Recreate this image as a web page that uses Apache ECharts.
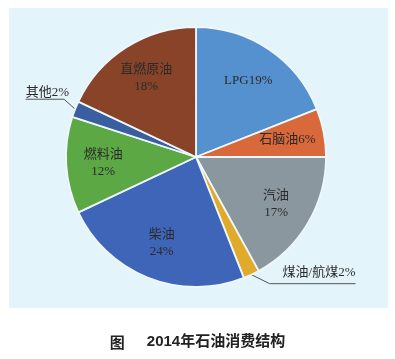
<!DOCTYPE html>
<html>
<head>
<meta charset="utf-8">
<script src="https://cdn.jsdelivr.net/npm/echarts@6/dist/echarts.min.js"></script>
<style>
html,body{margin:0;padding:0;background:#ffffff;}
#chart{width:395px;height:359px;}
</style>
</head>
<body>
<div id="chart"></div>
<script>
// Data
const categories = ['LPG', '石脑油', '汽油', '煤油/航煤', '柴油', '燃料油', '其他', '直燃原油'];
const values = [19, 6, 17, 2, 24, 12, 2, 18];
const captionPrefix = '图';
const captionText = '2014年石油消费结构';

// Styles
const sliceColors = ['#5590cf', '#d9683a', '#8b979f', '#e0aa2a', '#3f65b9', '#5ca845', '#3a5f9e', '#884329'];
const singleLine = ['LPG', '石脑油'];
const outsideNames = ['其他', '煤油/航煤'];
const outsideLine = { '其他': { length: 12, length2: 1 }, '煤油/航煤': { length: 10, length2: 22 } };
const FONT = '"Liberation Serif", "Noto Sans CJK SC", serif';
const CX = 196, CY = 157, R = 130;

const chart = echarts.init(document.getElementById('chart'), null, { renderer: 'canvas' });

const mainData = categories.map((name, i) => {
  const item = { name: name, value: values[i], itemStyle: { color: sliceColors[i] } };
  if (outsideNames.indexOf(name) >= 0) {
    item.label = { show: true };
    item.labelLine = { show: true, length: outsideLine[name].length, length2: outsideLine[name].length2 };
  } else {
    item.label = { show: false };
    item.labelLine = { show: false };
  }
  return item;
});

const labelData = categories.map((name, i) => ({
  name: name,
  value: values[i],
  label: { show: outsideNames.indexOf(name) < 0 }
}));

const option = {
  animation: false,
  graphic: [{
    type: 'rect', z: -10,
    shape: { x: 9, y: 8, width: 379, height: 300 },
    style: { fill: '#e4f4fb' }
  }],
  title: {
    text: '{a|' + captionPrefix + '}{sp|}{b|' + captionText + '}',
    left: 'center',
    top: 328,
    textStyle: {
      rich: {
        a: { fontSize: 15, fontFamily: '"Noto Sans CJK SC"', color: '#222' },
        sp: { width: 22 },
        b: { fontSize: 15, fontWeight: 'bold', fontFamily: '"Liberation Sans", "Noto Sans CJK SC"', color: '#222' }
      }
    }
  },
  series: [
    {
      type: 'pie',
      center: [CX, CY],
      radius: [0, R],
      startAngle: 90,
      clockwise: true,
      avoidLabelOverlap: false,
      itemStyle: { borderColor: '#eef7fb', borderWidth: 1.8 },
      label: {
        position: 'outside',
        formatter: '{b}{c}%',
        fontFamily: FONT,
        fontSize: 13,
        color: '#2b2b2b'
      },
      labelLine: { lineStyle: { color: '#555', width: 1 }, smooth: false },
      labelLayout: function (params) {
        const src = params.labelLinePoints;
        if (!src) return;
        const pts = src.map(p => [p[0], p[1]]);
        const r = params.labelRect;
        const isLeft = r.x + r.width / 2 < CX;
        let dx, dy;
        if (isLeft) {
          dx = 11;
          pts[1][1] -= 5.5;
          pts[2][1] = pts[1][1];
          pts[2][0] = r.x + dx;
          dy = (pts[1][1] - 7) - (r.y + r.height / 2);
        } else {
          dx = 0;
          pts[1][0] += 14;
          pts[2][0] = r.x + r.width;
          dy = (pts[1][1] - 11) - (r.y + r.height / 2);
        }
        return { dx: dx, dy: dy, labelLinePoints: pts };
      },
      emphasis: { disabled: true },
      data: mainData
    },
    {
      type: 'pie',
      center: [CX, CY],
      radius: [50, R],
      startAngle: 90,
      clockwise: true,
      silent: true,
      avoidLabelOverlap: false,
      itemStyle: { color: 'rgba(0,0,0,0)', borderWidth: 0 },
      label: {
        position: 'inside',
        formatter: function (p) {
          return singleLine.indexOf(p.name) >= 0 ? p.name + p.value + '%' : p.name + '\n' + p.value + '%';
        },
        fontFamily: FONT,
        fontSize: 13,
        lineHeight: 17,
        color: '#2b2b2b'
      },
      labelLine: { show: false },
      emphasis: { disabled: true },
      data: labelData
    }
  ]
};

chart.setOption(option);
</script>
</body>
</html>
